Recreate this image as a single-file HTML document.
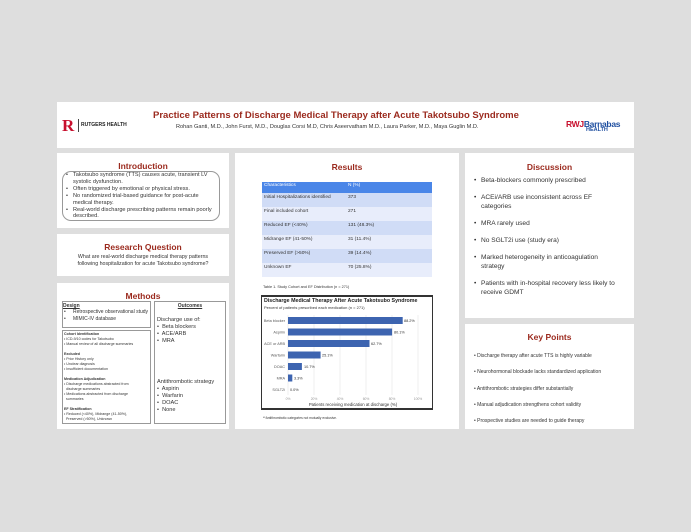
<!DOCTYPE html><html><head><style>
*{margin:0;padding:0;box-sizing:border-box}
body{width:691px;height:532px;background:#dedede;font-family:"Liberation Sans",sans-serif;position:relative;overflow:hidden;color:#333}
.p{position:absolute;background:#fff}
.a{position:absolute;white-space:nowrap}
h2{position:absolute;color:#9b2a1e;font-size:8.5px;font-weight:bold;width:100%;text-align:center}
ul{list-style:none}
.b li:before{content:"•";position:absolute;left:0}
.b li{position:relative;padding-left:7px}
</style></head><body>
<div class="p" style="left:57px;top:102px;width:577px;height:46px"></div>
<div class="a" style="left:62px;top:118px;width:14px;height:16px;color:#c8102e;font:bold 17px 'Liberation Serif',serif;line-height:16px">R</div>
<div class="a" style="left:78px;top:119px;width:1px;height:13px;background:#444"></div>
<div class="a" style="left:81px;top:122px;font-size:5px;font-weight:bold;color:#222">RUTGERS HEALTH</div>
<div class="a" style="left:153px;top:110px;font-size:9.5px;font-weight:bold;color:#9b2a1e">Practice Patterns of Discharge Medical Therapy after Acute Takotsubo Syndrome</div>
<div class="a" style="left:176px;top:124px;font-size:5.6px;color:#333">Rohan Ganti, M.D., John Furst, M.D., Douglas Corsi M.D, Chris Aseervatham M.D., Laura Parker, M.D., Maya Guglin M.D.</div>
<div class="a" style="left:566px;top:119px;font-size:8.5px;font-weight:bold;color:#c8102e;letter-spacing:-0.3px">RWJ<span style="color:#1f4fa0">Barnabas</span></div>
<div class="a" style="left:586px;top:127px;font-size:5.5px;font-weight:bold;color:#1f4fa0">HEALTH</div>

<div class="p" style="left:57px;top:153px;width:172px;height:75px"><h2 style="top:8px">Introduction</h2>
<div class="a" style="left:5px;top:18px;width:158px;height:50px;border:1px solid #999;border-radius:9px"></div>
<ul class="b" style="position:absolute;left:9px;top:19px;width:150px;font-size:5.6px;line-height:6.9px;white-space:normal"><li>Takotsubo syndrome (TTS) causes acute, transient LV systolic dysfunction.</li><li>Often triggered by emotional or physical stress.</li><li>No randomized trial-based guidance for post-acute medical therapy.</li><li>Real-world discharge prescribing patterns remain poorly described.</li></ul></div>

<div class="p" style="left:57px;top:234px;width:172px;height:42px"><h2 style="top:8px">Research Question</h2>
<div class="a" style="left:0;width:100%;top:20px;text-align:center;font-size:5.3px;line-height:7px">What are real-world discharge medical therapy patterns<br>following hospitalization for acute Takotsubo syndrome?</div></div>

<div class="p" style="left:57px;top:283px;width:172px;height:146px"><h2 style="top:8px">Methods</h2>
<div class="a" style="left:5px;top:18px;width:89px;height:27px;border:1px solid #999"></div>
<div class="a" style="left:6px;top:20px;font-size:5px;font-weight:bold;text-decoration:underline">Design</div>
<ul class="b" style="position:absolute;left:7px;top:26px;font-size:5px;line-height:7px"><li style="padding-left:9px">Retrospective observational study</li><li style="padding-left:9px">MIMIC-IV database</li></ul>
<div class="a" style="left:5px;top:47px;width:89px;height:94px;border:1px solid #999"></div>
<div class="a" style="left:7px;top:49px;font-size:3.6px;line-height:5px;white-space:normal;width:84px">
<b>Cohort Identification</b><br>• ICD-9/10 codes for Takotsubo<br>• Manual review of all discharge summaries<br><br><b>Excluded</b><br>• Prior History only<br>• Unclear diagnosis<br>• Insufficient documentation<br><br><b>Medication Adjudication</b><br>• Discharge medications abstracted from<br>&nbsp;&nbsp;discharge summaries<br>• Medications abstracted from discharge<br>&nbsp;&nbsp;summaries<br><br><b>EF Stratification</b><br>• Reduced (&lt;40%), Midrange (41-50%),<br>&nbsp;&nbsp;Preserved (&gt;50%), Unknown</div>
<div class="a" style="left:97px;top:18px;width:72px;height:123px;border:1px solid #999"></div>
<div class="a" style="left:97px;width:72px;top:20px;text-align:center;font-size:5px;font-weight:bold;text-decoration:underline">Outcomes</div>
<div class="a" style="left:100px;top:34px;font-size:5.6px;line-height:7px">Discharge use of:<br>•&nbsp; Beta blockers<br>•&nbsp; ACE/ARB<br>•&nbsp; MRA</div>
<div class="a" style="left:100px;top:96px;font-size:5.6px;line-height:7px">Antithrombotic strategy<br>•&nbsp; Aspirin<br>•&nbsp; Warfarin<br>•&nbsp; DOAC<br>•&nbsp; None</div>
</div>

<div class="p" style="left:235px;top:153px;width:224px;height:276px"><h2 style="top:9px">Results</h2>
<div class="a" style="left:27px;top:29px;width:170px;font-size:4.8px">
<div style="background:#4a86e8;color:#fff;height:11px;position:relative"><span class="a" style="left:2px;top:1px">Characteristics</span><span class="a" style="left:86px;top:1px">N (%)</span></div>
<div style="background:#d0dcf6;height:14px;position:relative"><span class="a" style="left:2px;top:2px">Initial Hospitalizations identified</span><span class="a" style="left:86px;top:2px">373</span></div>
<div style="background:#e8edfb;height:14px;position:relative"><span class="a" style="left:2px;top:2px">Final included cohort</span><span class="a" style="left:86px;top:2px">271</span></div>
<div style="background:#d0dcf6;height:14px;position:relative"><span class="a" style="left:2px;top:2px">Reduced EF (&lt;40%)</span><span class="a" style="left:86px;top:2px">131 (48.3%)</span></div>
<div style="background:#e8edfb;height:14px;position:relative"><span class="a" style="left:2px;top:2px">Midrange EF (41-50%)</span><span class="a" style="left:86px;top:2px">31 (11.4%)</span></div>
<div style="background:#d0dcf6;height:14px;position:relative"><span class="a" style="left:2px;top:2px">Preserved EF (&gt;50%)</span><span class="a" style="left:86px;top:2px">39 (14.4%)</span></div>
<div style="background:#e8edfb;height:14px;position:relative"><span class="a" style="left:2px;top:2px">Unknown EF</span><span class="a" style="left:86px;top:2px">70 (25.8%)</span></div>
</div>
<div class="a" style="left:28px;top:132px;font-size:3.8px">Table 1. Study Cohort and EF Distribution (n = 271)</div>
<div class="a" style="left:26px;top:142px;width:172px;height:115px;border:1px solid #333;border-top-width:2px;border-bottom-width:2px"></div>
<div class="a" style="left:29px;top:145px;font-size:5.3px;font-weight:bold;color:#222">Discharge Medical Therapy After Acute Takotsubo Syndrome</div>
<div class="a" style="left:29px;top:152px;font-size:4px">Percent of patients prescribed each medication (n = 271)</div>
<svg class="a" style="left:26px;top:142px" width="172" height="115" font-family="Liberation Sans" font-size="3.8" fill="#555">
<g stroke="#e4e4e4" stroke-width="0.6"><line x1="27" y1="20" x2="27" y2="100"/><line x1="53" y1="20" x2="53" y2="100"/><line x1="79" y1="20" x2="79" y2="100"/><line x1="105" y1="20" x2="105" y2="100"/><line x1="131" y1="20" x2="131" y2="100"/><line x1="157" y1="20" x2="157" y2="100"/></g>
<g fill="#3d64b0">
<rect x="27" y="22" width="114.7" height="7"/><rect x="27" y="33.5" width="104.1" height="7"/><rect x="27" y="45" width="81.5" height="7"/><rect x="27" y="56.5" width="32.6" height="7"/><rect x="27" y="68" width="13.9" height="7"/><rect x="27" y="79.5" width="4.3" height="7"/></g>
<g text-anchor="end"><text x="24" y="27">Beta blocker</text><text x="24" y="38.5">Aspirin</text><text x="24" y="50">ACE or ARB</text><text x="24" y="61.5">Warfarin</text><text x="24" y="73">DOAC</text><text x="24" y="84.5">MRA</text><text x="24" y="96">SGLT2i</text></g>
<g fill="#333"><text x="143" y="27">88.2%</text><text x="133" y="38.5">80.1%</text><text x="110" y="50">62.7%</text><text x="61" y="61.5">25.1%</text><text x="43" y="73">10.7%</text><text x="33" y="84.5">3.3%</text><text x="29" y="96">0.0%</text></g>
<g text-anchor="middle" fill="#999" font-size="3.3"><text x="27" y="105">0%</text><text x="53" y="105">20%</text><text x="79" y="105">40%</text><text x="105" y="105">60%</text><text x="131" y="105">80%</text><text x="157" y="105">100%</text></g>
<text x="92" y="111" text-anchor="middle" font-size="4.3" fill="#333">Patients receiving medication at discharge (%)</text>
</svg>
<div class="a" style="left:28px;top:263px;font-size:3.3px">**Antithrombotic categories not mutually exclusive.</div>
</div>

<div class="p" style="left:465px;top:153px;width:169px;height:165px"><h2 style="top:9px">Discussion</h2>
<ul class="b" style="position:absolute;left:9px;top:23px;width:146px;font-size:6.6px;line-height:9px;white-space:normal"><li style="margin-bottom:8px">Beta-blockers commonly prescribed</li><li style="margin-bottom:8px">ACEi/ARB use inconsistent across EF categories</li><li style="margin-bottom:8px">MRA rarely used</li><li style="margin-bottom:8px">No SGLT2i use (study era)</li><li style="margin-bottom:8px">Marked heterogeneity in anticoagulation strategy</li><li>Patients with in-hospital recovery less likely to receive GDMT</li></ul></div>

<div class="p" style="left:465px;top:324px;width:169px;height:105px"><h2 style="top:8px">Key Points</h2>
<div class="a" style="left:9px;top:24px;font-size:5px;line-height:16.3px">• Discharge therapy after acute TTS is highly variable<br>• Neurohormonal blockade lacks standardized application<br>• Antithrombotic strategies differ substantially<br>• Manual adjudication strengthens cohort validity<br>• Prospective studies are needed to guide therapy</div></div>
</body></html>
